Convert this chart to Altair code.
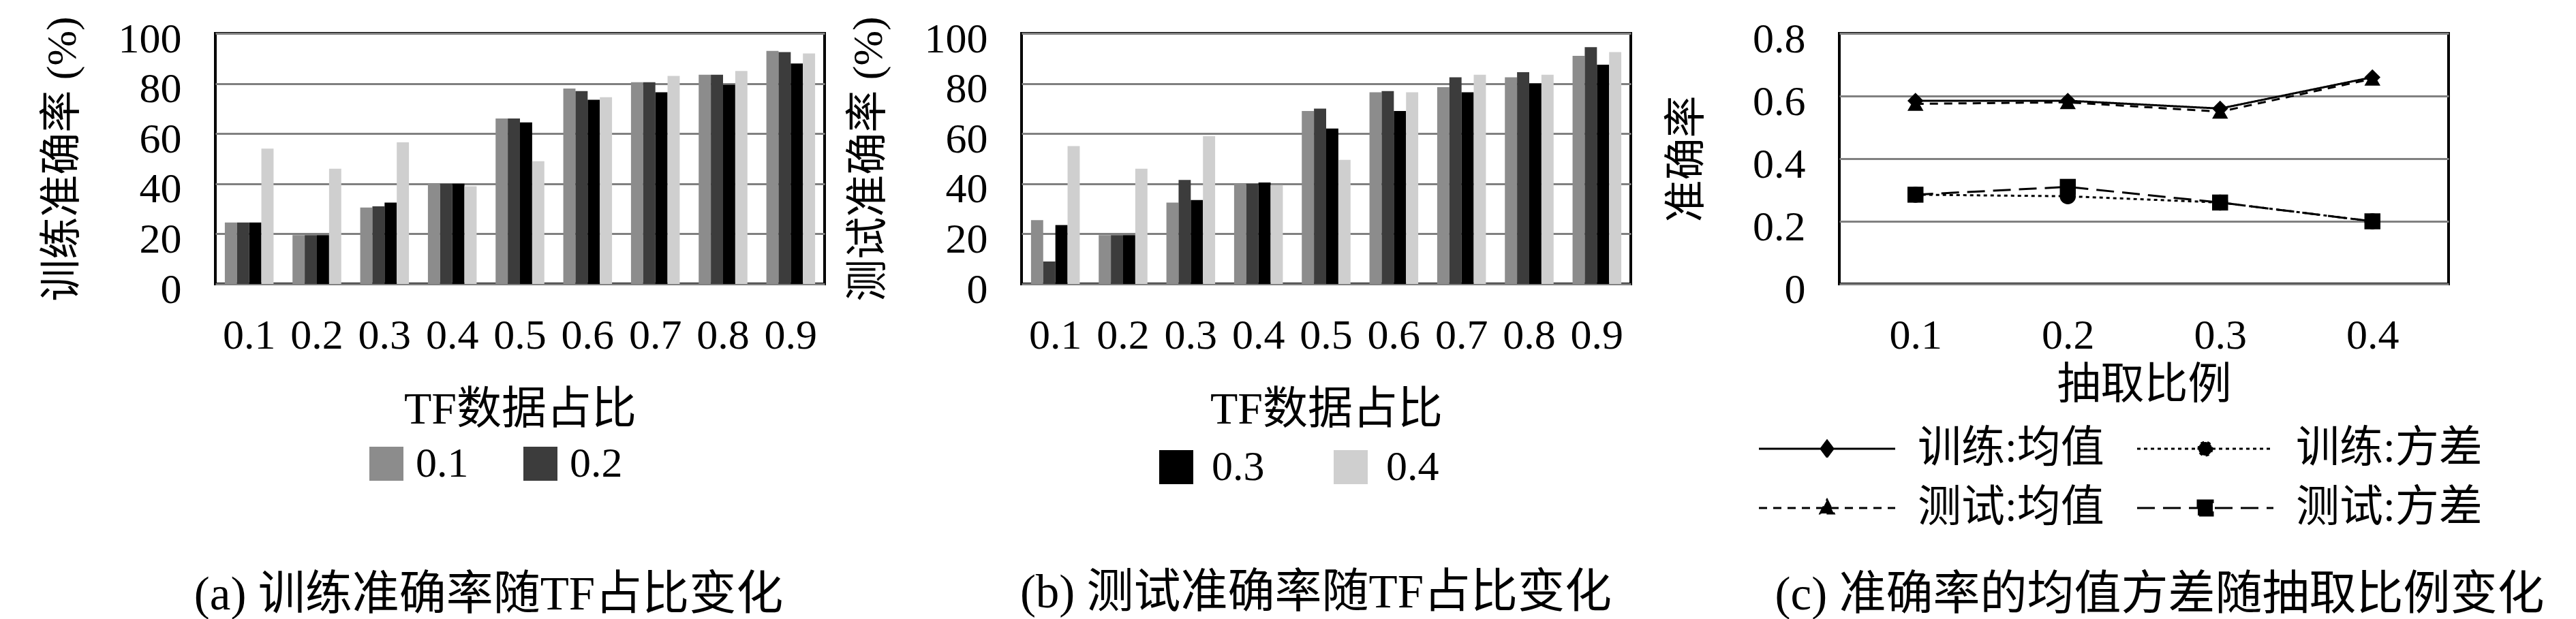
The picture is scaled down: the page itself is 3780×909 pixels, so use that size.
import altair as alt
import pandas as pd

# ---------------- data ----------------
tf_ratio = ["0.1", "0.2", "0.3", "0.4", "0.5", "0.6", "0.7", "0.8", "0.9"]
bar_series = ["0.1", "0.2", "0.3", "0.4"]

# (a) training accuracy (%)
train_01 = [24.5, 19.5, 30.5, 40.0, 66.0, 78.0, 80.5, 83.5, 93.0]
train_02 = [24.5, 19.5, 31.0, 40.0, 66.0, 77.0, 80.5, 83.5, 92.5]
train_03 = [24.5, 19.5, 32.5, 40.0, 64.5, 73.5, 76.5, 79.5, 88.0]
train_04 = [54.0, 46.0, 56.5, 39.0, 49.0, 74.5, 83.0, 85.0, 92.0]

# (b) test accuracy (%)
test_01 = [25.5, 19.5, 32.5, 40.0, 69.0, 76.5, 78.5, 82.5, 91.0]
test_02 = [9.0, 19.5, 41.5, 40.0, 70.0, 77.0, 82.5, 84.5, 94.5]
test_03 = [23.5, 19.5, 33.5, 40.5, 62.0, 69.0, 76.5, 80.0, 87.5]
test_04 = [55.0, 46.0, 59.0, 39.5, 49.5, 76.5, 83.5, 83.5, 92.5]

# (c) mean / variance of accuracy vs sampling ratio
sample_ratio = ["0.1", "0.2", "0.3", "0.4"]
line_series = ["训练:均值", "训练:方差", "测试:均值", "测试:方差"]
train_mean = [0.585, 0.585, 0.56, 0.66]
train_var = [0.285, 0.28, 0.26, 0.20]
test_mean = [0.575, 0.58, 0.55, 0.655]
test_var = [0.285, 0.31, 0.26, 0.20]

# ---------------- styles ----------------
FONT = "Liberation Serif, Noto Sans CJK SC"
FS = 62
CAP_FS = 69
PW, PH = 894, 368
bar_colors = ["#8c8c8c", "#3c3c3c", "#000000", "#cfcfcf"]
dash_range = [[1, 0], [5, 5], [12, 9], [26, 12]]
marker_shapes = ["diamond", "circle", "triangle-up", "square"]
# legend symbols: a long line with the marker in its middle (1 unit = 20 px)
legend_paths = [
    "M-5,0H5M0,-0.6L0.45,0L0,0.6L-0.45,0Z",
    "M-5,0H5M0.5,0A0.5,0.5,0,1,1,-0.5,0A0.5,0.5,0,1,1,0.5,0Z",
    "M-5,0H5M0,-0.6L0.5,0.4L-0.5,0.4Z",
    "M-5,0H5M-0.55,-0.55H0.55V0.55H-0.55Z",
]


def bar_frame(vals):
    rows = []
    for s, series in zip(bar_series, vals):
        for t, v in zip(tf_ratio, series):
            rows.append({"tf": t, "series": s, "value": v})
    return pd.DataFrame(rows)


def bar_panel(df, ytitle, caption, shown, lx, ly, lab_off, col_pad, cap_dx, cap_off):
    return (
        alt.Chart(df)
        .mark_bar()
        .encode(
            x=alt.X(
                "tf:N",
                sort=tf_ratio,
                title="TF数据占比",
                scale=alt.Scale(paddingInner=0.28, paddingOuter=0.14),
                axis=alt.Axis(labelAngle=0, ticks=False, domain=False, grid=False,
                              labelPadding=45, titlePadding=46, titleFontSize=66),
            ),
            xOffset=alt.XOffset("series:N", sort=bar_series,
                                scale=alt.Scale(paddingInner=0, paddingOuter=0)),
            y=alt.Y(
                "value:Q",
                title=ytitle,
                scale=alt.Scale(domain=[0, 100]),
                axis=alt.Axis(values=[0, 20, 40, 60, 80, 100], ticks=False, domain=False,
                              labelPadding=50, titlePadding=50, labelOffset=8),
            ),
            color=alt.Color(
                "series:N",
                sort=bar_series,
                scale=alt.Scale(domain=bar_series, range=bar_colors),
                legend=alt.Legend(
                    values=shown, title=None, orient="none", legendX=lx, legendY=ly,
                    direction="horizontal", symbolType="square", symbolSize=2500,
                    symbolStrokeWidth=0, labelOffset=lab_off, columnPadding=col_pad,
                ),
            ),
        )
        .properties(
            width=PW, height=PH,
            title=alt.TitleParams(caption, orient="bottom", offset=cap_off, dx=cap_dx,
                                  frame="group", fontSize=CAP_FS),
        )
    )


panel_a = bar_panel(bar_frame([train_01, train_02, train_03, train_04]),
                    "训练准确率 (%)", "(a) 训练准确率随TF占比变化",
                    ["0.1", "0.2"], 220, 601, 12, 74, -46, 128)
panel_b = bar_panel(bar_frame([test_01, test_02, test_03, test_04]),
                    "测试准确率 (%)", "(b) 测试准确率随TF占比变化",
                    ["0.3", "0.4"], 196, 606, 21, 95, -15, 120)

rows = []
for name, vals in zip(line_series, [train_mean, train_var, test_mean, test_var]):
    for r, v in zip(sample_ratio, vals):
        rows.append({"ratio": r, "series": name, "value": v})
line_df = pd.DataFrame(rows)

x_c = alt.X("ratio:N", sort=sample_ratio, title="抽取比例",
            axis=alt.Axis(labelAngle=0, ticks=False, domain=False, grid=False,
                          labelPadding=45, titlePadding=10, titleFontSize=64))
y_c = alt.Y("value:Q", title="准确率", scale=alt.Scale(domain=[0, 0.8]),
            axis=alt.Axis(values=[0, 0.2, 0.4, 0.6, 0.8], format=".1~f", ticks=False,
                          domain=False, labelPadding=50, titlePadding=64, labelOffset=8))

lines = alt.Chart(line_df).mark_line(color="black", strokeWidth=3).encode(
    x=x_c, y=y_c, detail="series:N",
    strokeDash=alt.StrokeDash("series:N", sort=line_series,
                              scale=alt.Scale(domain=line_series, range=dash_range), legend=None),
)
markers = alt.Chart(line_df).mark_point(filled=True, color="black", size=550, opacity=1).encode(
    x=x_c, y=y_c,
    shape=alt.Shape("series:N", sort=line_series,
                    scale=alt.Scale(domain=line_series, range=marker_shapes), legend=None),
)
leg_props = dict(title=None, orient="none", legendX=-130, legendY=578, columns=2,
                 direction="horizontal", symbolSize=1600, symbolStrokeWidth=3,
                 symbolOffset=80, labelOffset=101, columnPadding=36, rowPadding=23,
                 labelLimit=0, labelFontSize=64)
legend_layer = (
    alt.Chart(line_df)
    .transform_filter("false")
    .mark_point(size=1600, fill="black", stroke="black", strokeWidth=3, opacity=1, filled=False)
    .encode(
        x=x_c, y=y_c,
        shape=alt.Shape("series:N", sort=line_series,
                        scale=alt.Scale(domain=line_series, range=legend_paths),
                        legend=alt.Legend(**leg_props)),
        strokeDash=alt.StrokeDash("series:N", sort=line_series,
                                  scale=alt.Scale(domain=line_series, range=dash_range),
                                  legend=alt.Legend(**leg_props)),
    )
)
panel_c = (
    alt.layer(lines, markers, legend_layer)
    .resolve_scale(shape="independent", strokeDash="independent")
    .resolve_legend(shape="independent", strokeDash="independent")
    .properties(
        width=PW, height=PH,
        title=alt.TitleParams("(c) 准确率的均值方差随抽取比例变化", orient="bottom",
                              offset=62, dx=23, frame="group", fontSize=CAP_FS),
    )
)

chart = (
    alt.hconcat(
        alt.hconcat(panel_a, panel_b, spacing=29).resolve_scale(color="independent"),
        panel_c,
        spacing=47,
    )
    .configure(font=FONT, padding={"left": 50, "top": 13, "right": 0, "bottom": 0})
    .configure_view(stroke="black", strokeWidth=4)
    .configure_axis(labelFont=FONT, labelFontSize=FS, titleFont=FONT, titleFontSize=FS,
                    titleFontWeight="normal", labelColor="black", titleColor="black",
                    gridColor="#808080", gridWidth=3, gridOpacity=1)
    .configure_legend(labelFont=FONT, labelFontSize=FS, labelColor="black")
    .configure_title(font=FONT, fontSize=FS, fontWeight="normal", color="black")
)

chart.save("out.html", embed_options={"renderer": "svg", "actions": False})
